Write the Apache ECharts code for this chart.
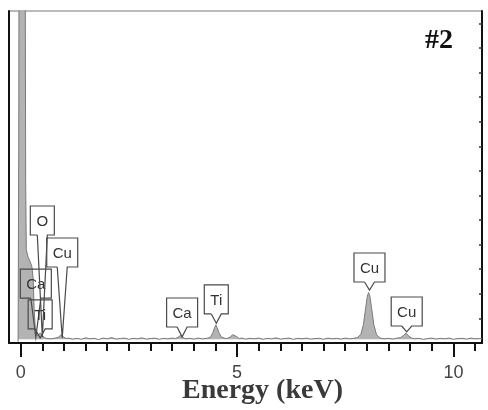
<!DOCTYPE html>
<html>
<head>
<meta charset="utf-8">
<script src="https://cdn.jsdelivr.net/npm/echarts@6/dist/echarts.min.js"></script>
<style>
  html, body { margin: 0; padding: 0; background: #fff; }
  #main { width: 488px; height: 410px; }
</style>
</head>
<body>
<div id="main"></div>
<script>
// spectrum (energy in keV, counts in right-axis tick units)
var energy = [-0.06, -0.045, -0.035, 0.1, 0.11, 0.115, 0.13, 0.17, 0.22, 0.26, 0.29, 0.31, 0.34, 0.38, 0.45, 0.5, 0.55, 0.6, 0.7, 0.8, 0.88, 0.93, 0.98, 1.05,
    1.1, 1.2, 1.3, 1.4, 1.5, 1.6, 1.7, 1.8, 1.9, 2.0, 2.1, 2.2, 2.3, 2.4, 2.5, 2.6, 2.7, 2.8, 2.9, 3.0, 3.1, 3.2, 3.3, 3.4, 3.5,
    3.58, 3.64, 3.69, 3.74, 3.8, 3.9, 4.0, 4.1, 4.2, 4.3, 4.38, 4.44, 4.48, 4.51, 4.54, 4.58, 4.64, 4.7, 4.76, 4.84, 4.9, 4.94, 4.99, 5.05,
    5.1, 5.2, 5.3, 5.4, 5.5, 5.6, 5.7, 5.8, 5.9, 6.0, 6.1, 6.2, 6.3, 6.4, 6.5, 6.6, 6.7, 6.8, 6.9, 7.0, 7.1, 7.2, 7.3, 7.4, 7.5, 7.6, 7.7,
    7.78, 7.86, 7.92, 7.97, 8.01, 8.04, 8.07, 8.11, 8.16, 8.22, 8.3, 8.4, 8.5, 8.6, 8.7, 8.78, 8.84, 8.9, 8.96, 9.02,
    9.1, 9.2, 9.3, 9.4, 9.5, 9.6, 9.7, 9.8, 9.9, 10.0, 10.1, 10.2, 10.3, 10.4, 10.5, 10.6, 10.66];
var counts = [0.05, 8, 20, 20, 20, 6.5, 3.8, 3.5, 3.3, 3.1, 2.6, 1.4, 0.5, 0.3, 0.4, 0.32, 0.22, 0.18, 0.17, 0.2, 0.24, 0.34, 0.26, 0.18,
    0.2, 0.16, 0.19, 0.15, 0.21, 0.17, 0.19, 0.14, 0.2, 0.17, 0.22, 0.16, 0.18, 0.2, 0.15, 0.19, 0.17, 0.21, 0.16, 0.18, 0.2, 0.15, 0.19, 0.17, 0.2,
    0.18, 0.24, 0.3, 0.24, 0.17, 0.19, 0.16, 0.2, 0.17, 0.19, 0.22, 0.42, 0.62, 0.74, 0.62, 0.42, 0.24, 0.2, 0.18, 0.24, 0.34, 0.36, 0.26, 0.18,
    0.2, 0.16, 0.19, 0.17, 0.2, 0.15, 0.19, 0.17, 0.21, 0.16, 0.18, 0.2, 0.15, 0.19, 0.17, 0.2, 0.16, 0.18, 0.19, 0.15, 0.2, 0.17, 0.19, 0.16, 0.2, 0.17, 0.19,
    0.22, 0.35, 0.75, 1.4, 1.9, 2.05, 1.9, 1.4, 0.75, 0.35, 0.2, 0.17, 0.19, 0.16, 0.2, 0.22, 0.3, 0.4, 0.3, 0.21,
    0.17, 0.19, 0.15, 0.18, 0.2, 0.16, 0.19, 0.17, 0.2, 0.15, 0.18, 0.19, 0.16, 0.2, 0.17, 0.18, 0.17];

// peak labels
var labelText   = ['Ca', 'Ti', 'O', 'Cu', 'Ca', 'Ti', 'Cu', 'Cu'];
var labelEnergy = [0.35, 0.45, 0.5, 0.96, 3.73, 4.52, 8.06, 8.92];
var labelTip    = [0.22, 0.2, 0.24, 0.2, 0.25, 0.8, 2.15, 0.45];
var labelTop    = [3.0, 1.75, 5.57, 4.27, 1.83, 2.36, 3.66, 1.87];

// axis ticks
var tickValues = [0, 0.5, 1, 1.5, 2, 2.5, 3, 3.5, 4, 4.5, 5, 5.5, 6, 6.5, 7, 7.5, 8, 8.5, 9, 9.5, 10, 10.5];
var majorTicks = [0, 5, 10];
var yTicks = [1, 2, 3, 4, 5, 6, 7, 8, 9, 10, 11, 12, 13];

var spectrum = energy.map(function (e, i) { return [e, counts[i]]; });
var labels = labelEnergy.map(function (e, i) { return [e, labelTip[i], labelTop[i]]; });

var measure = document.createElement('canvas').getContext('2d');
measure.font = '15px "Liberation Sans"';

function renderLabel(params, api) {
    var tip = api.coord([api.value(0), api.value(1)]);
    var top = api.coord([api.value(0), api.value(2)]);
    var text = labelText[params.dataIndex];
    var w = Math.round(measure.measureText(text).width) + 12;
    var h = 29;
    var cx = top[0], x0 = cx - w / 2, x1 = cx + w / 2, y0 = top[1], y1 = top[1] + h;
    var b = 5;
    return {
        type: 'group',
        children: [
            {
                type: 'polyline',
                shape: { points: [[cx - b, y1], [x0, y1], [x0, y0], [x1, y0], [x1, y1], [cx + b, y1], [tip[0], tip[1]], [cx - b, y1]] },
                style: { stroke: '#4a4a4a', lineWidth: 1.2, fill: null }
            },
            {
                type: 'text',
                style: {
                    text: text, x: cx, y: y0 + h / 2 + 1, align: 'center', verticalAlign: 'middle',
                    font: '15px "Liberation Sans", "Open Sans", sans-serif', fill: '#333'
                }
            }
        ]
    };
}

var myChart = echarts.init(document.querySelector('#main'));
var option = {
    backgroundColor: '#fff',
    animation: false,
    title: {
        text: '#2',
        left: 425,
        top: 27,
        padding: 0,
        textStyle: { fontFamily: 'Liberation Serif', fontWeight: 'bold', fontSize: 28, color: '#111' }
    },
    grid: {
        left: 9, right: 6, top: 11, bottom: 67,
        show: true, borderColor: '#777', borderWidth: 1
    },
    xAxis: [
        {
            type: 'value', min: -0.27, max: 10.66, position: 'bottom',
            axisLine: { show: true, onZero: false, lineStyle: { color: '#111', width: 2 } },
            axisTick: { show: true, customValues: tickValues, length: 8, lineStyle: { color: '#111', width: 2 } },
            axisLabel: { show: false },
            splitLine: { show: false },
            name: 'Energy (keV)',
            nameLocation: 'middle',
            nameGap: 34,
            nameTextStyle: {
                fontFamily: 'Liberation Serif', fontWeight: 'bold', fontSize: 28, color: '#3a3a3a',
                padding: [0, 0, 0, 34]
            }
        },
        {
            type: 'value', min: -0.27, max: 10.66, position: 'bottom',
            axisLine: { show: false, onZero: false },
            axisTick: { show: true, customValues: majorTicks, length: 14, lineStyle: { color: '#111', width: 2 } },
            axisLabel: {
                show: true, customValues: majorTicks, margin: 21,
                fontFamily: 'Liberation Sans', fontSize: 18, color: '#444'
            },
            splitLine: { show: false }
        }
    ],
    yAxis: [
        {
            type: 'value', min: 0, max: 13.5, position: 'left',
            axisLine: { show: true, onZero: false, lineStyle: { color: '#111', width: 2 } },
            axisTick: { show: false },
            axisLabel: { show: false },
            splitLine: { show: false }
        },
        {
            type: 'value', min: 0, max: 13.5, position: 'right',
            axisLine: { show: true, onZero: false, lineStyle: { color: '#111', width: 2 } },
            axisTick: { show: true, inside: true, customValues: yTicks, length: 3, lineStyle: { color: '#333', width: 1.5 } },
            axisLabel: { show: false },
            splitLine: { show: false }
        }
    ],
    series: [
        {
            type: 'line',
            data: spectrum,
            showSymbol: false,
            lineStyle: { color: '#7a7a7a', width: 1 },
            areaStyle: { color: '#b3b3b3', opacity: 1, origin: 0.15 },
            z: 2
        },
        {
            type: 'custom',
            data: labels,
            renderItem: renderLabel,
            encode: { x: 0, y: 1 },
            z: 5
        }
    ]
};
myChart.setOption(option, true);
</script>
</body>
</html>
